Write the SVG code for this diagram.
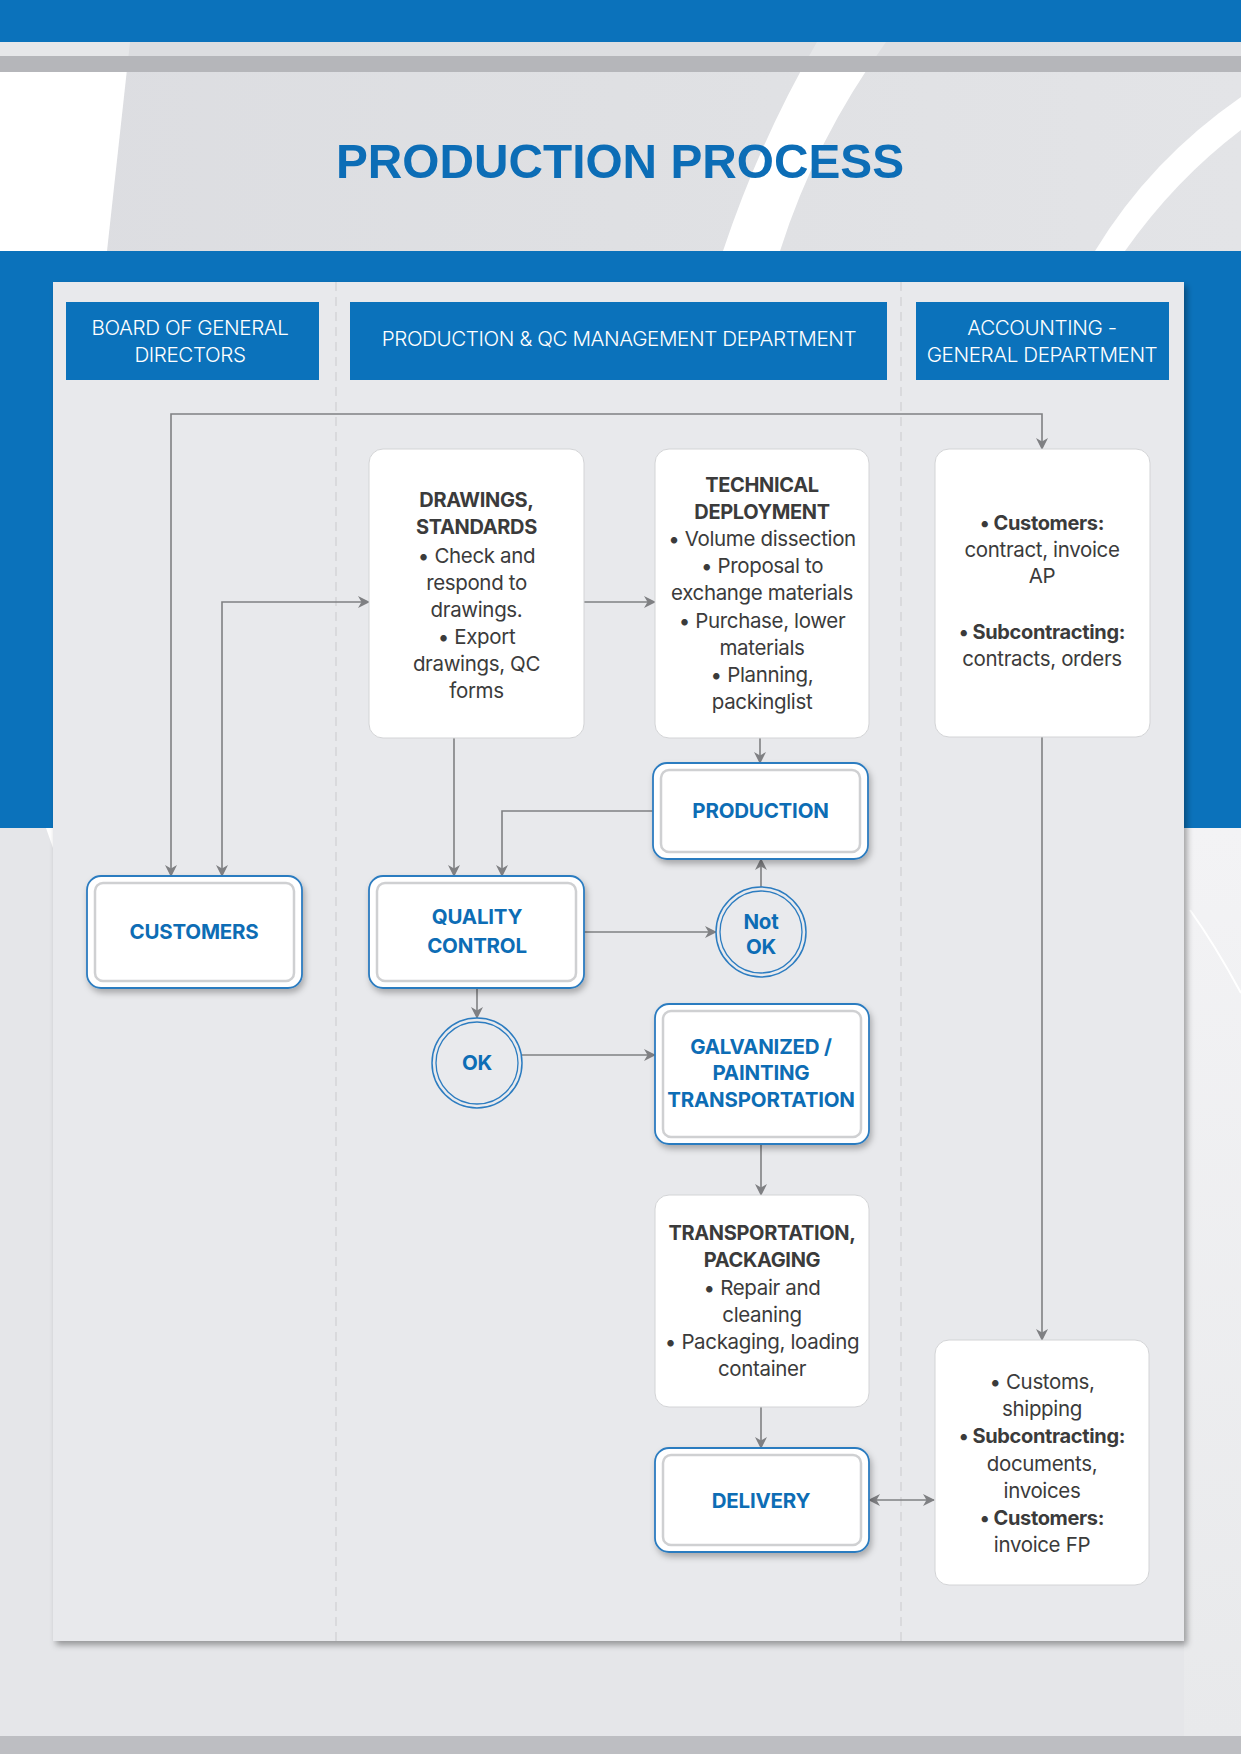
<svg xmlns="http://www.w3.org/2000/svg" width="1241" height="1754" viewBox="0 0 1241 1754">
<defs>
<style>
.hdr{font-family:Inter,"Liberation Sans",sans-serif;font-weight:300;font-size:20.6px;fill:#ffffff;text-anchor:middle;letter-spacing:-0.4px}
.body{font-family:Inter,"Liberation Sans",sans-serif;font-size:20.5px;fill:#3b3b3b;text-anchor:middle;letter-spacing:-0.35px}
.b{font-weight:700;font-size:20px}
.lbl{font-family:Inter,"Liberation Sans",sans-serif;font-weight:700;font-size:20.5px;fill:#0d6db5;text-anchor:middle;letter-spacing:-0.2px}
.box{fill:#ffffff;stroke:#d3d4d6;stroke-width:1}
.dbl{fill:#ffffff;stroke:#2c7cc0;stroke-width:1.8}
.inner{fill:none;stroke:#cfd0d2;stroke-width:2.5}
.circ{fill:#e9eaed;stroke:#2c7cc0;stroke-width:1.5}
.circi{fill:none;stroke:#2c7cc0;stroke-width:1.3}
.conn{fill:none;stroke:#7f8083;stroke-width:1.6}
.lane{stroke:#cfd0d3;stroke-width:1.2;stroke-dasharray:9 6}
</style>
<marker id="arr" viewBox="0 0 12 12" refX="11" refY="6" markerWidth="12" markerHeight="12" markerUnits="userSpaceOnUse" orient="auto-start-reverse">
<path d="M0,0 L12,6 L0,12 L3.5,6 Z" fill="#7f8083"/>
</marker>
<linearGradient id="bgtop" x1="0" y1="0" x2="1" y2="0">
<stop offset="0" stop-color="#dcdde1"/>
<stop offset="0.5" stop-color="#dfe0e3"/>
<stop offset="1" stop-color="#e3e4e7"/>
</linearGradient>
<linearGradient id="rside" x1="0" y1="0" x2="0" y2="1">
<stop offset="0" stop-color="#f3f3f5"/>
<stop offset="1" stop-color="#e8e9eb"/>
</linearGradient>
<filter id="sh" x="-10%" y="-10%" width="125%" height="130%">
<feDropShadow dx="2" dy="4" stdDeviation="3" flood-color="#000000" flood-opacity="0.28"/>
</filter>
<filter id="psh" x="-5%" y="-5%" width="112%" height="110%">
<feDropShadow dx="3" dy="4" stdDeviation="3" flood-color="#000000" flood-opacity="0.35"/>
</filter>
</defs>

<!-- background -->
<rect x="0" y="0" width="1241" height="1754" fill="#e5e6e9"/>
<rect x="0" y="42" width="1241" height="209" fill="url(#bgtop)"/>
<path d="M0,42 L130,42 L107,251 L0,251 Z" fill="#ffffff"/>
<path d="M817,42 L886,42 Q815,140 780,251 L723,251 Q760,140 817,42 Z" fill="#ffffff"/>
<path d="M1241,97 Q1150,160 1095,251 L1125,251 Q1175,180 1241,130 Z" fill="#ffffff"/>
<rect x="0" y="42" width="1241" height="14" fill="#dcdde0" opacity="0.7"/>
<rect x="0" y="56" width="1241" height="16" fill="#b5b6ba"/>
<rect x="0" y="0" width="1241" height="42" fill="#0b72bb"/>
<rect x="1184" y="828" width="57" height="908" fill="url(#rside)"/>
<path d="M1190,910 Q1215,945 1241,993" fill="none" stroke="#ffffff" stroke-width="2"/>
<rect x="0" y="251" width="1241" height="577" fill="#0b72bb"/>
<path d="M46,828 L53,828 L53,848 Z" fill="#ffffff"/>
<rect x="0" y="1736" width="1241" height="18" fill="#bdbec2"/>

<!-- panel -->
<rect x="53" y="282" width="1131" height="1359" fill="#e8e9ec" filter="url(#psh)"/>
<line class="lane" x1="336" y1="282" x2="336" y2="1641"/>
<line class="lane" x1="901" y1="282" x2="901" y2="1641"/>

<!-- lane headers -->
<g id="hdr-board">
<rect x="66" y="302" width="253" height="78" fill="#0b72bb"/>
<text class="hdr" x="190" y="335">BOARD OF GENERAL</text>
<text class="hdr" x="190" y="362">DIRECTORS</text>
</g>
<g id="hdr-production">
<rect x="350" y="302" width="537" height="78" fill="#0b72bb"/>
<text class="hdr" x="619" y="346">PRODUCTION &amp; QC MANAGEMENT DEPARTMENT</text>
</g>
<g id="hdr-accounting">
<rect x="916" y="302" width="253" height="78" fill="#0b72bb"/>
<text class="hdr" x="1042" y="335">ACCOUNTING -</text>
<text class="hdr" x="1042" y="362">GENERAL DEPARTMENT</text>
</g>

<!-- title -->
<text x="336" y="178" font-family="'Liberation Sans',Arial,sans-serif" font-weight="700" font-size="49" fill="#0c6db6" textLength="568" lengthAdjust="spacingAndGlyphs">PRODUCTION PROCESS</text>

<!-- connectors -->
<g id="connectors">
<path class="conn" d="M171,876 V414 H1042 V449" marker-start="url(#arr)" marker-end="url(#arr)"/>
<path class="conn" d="M369,602 H222 V876" marker-start="url(#arr)" marker-end="url(#arr)"/>
<path class="conn" d="M584,602 H655" marker-end="url(#arr)"/>
<path class="conn" d="M454,738 V876" marker-end="url(#arr)"/>
<path class="conn" d="M760,738 V763" marker-end="url(#arr)"/>
<path class="conn" d="M653,811 H502 V876" marker-end="url(#arr)"/>
<path class="conn" d="M584,932 H716" marker-end="url(#arr)"/>
<path class="conn" d="M761,887 V859" marker-end="url(#arr)"/>
<path class="conn" d="M477,988 V1018" marker-end="url(#arr)"/>
<path class="conn" d="M522,1055 H655" marker-end="url(#arr)"/>
<path class="conn" d="M761,1144 V1195" marker-end="url(#arr)"/>
<path class="conn" d="M761,1407 V1448" marker-end="url(#arr)"/>
<path class="conn" d="M869,1500 H934" marker-start="url(#arr)" marker-end="url(#arr)"/>
<path class="conn" d="M1042,737 V1340" marker-end="url(#arr)"/>
</g>

<!-- nodes -->
<g id="drawings">
<rect class="box" x="369" y="449" width="215" height="289" rx="14"/>
<text class="body b" x="476.5" y="507">DRAWINGS,</text>
<text class="body b" x="476.5" y="534">STANDARDS</text>
<text class="body" x="476.5" y="563">• Check and</text>
<text class="body" x="476.5" y="590">respond to</text>
<text class="body" x="476.5" y="617">drawings.</text>
<text class="body" x="476.5" y="644">• Export</text>
<text class="body" x="476.5" y="671">drawings, QC</text>
<text class="body" x="476.5" y="698">forms</text>
</g>

<g id="technical">
<rect class="box" x="655" y="449" width="214" height="289" rx="14"/>
<text class="body b" x="762" y="492">TECHNICAL</text>
<text class="body b" x="762" y="519">DEPLOYMENT</text>
<text class="body" x="762" y="546">• Volume dissection</text>
<text class="body" x="762" y="573">• Proposal to</text>
<text class="body" x="762" y="600">exchange materials</text>
<text class="body" x="762" y="628">• Purchase, lower</text>
<text class="body" x="762" y="655">materials</text>
<text class="body" x="762" y="682">• Planning,</text>
<text class="body" x="762" y="709">packinglist</text>
</g>

<g id="accounting-contracts">
<rect class="box" x="935" y="449" width="215" height="288" rx="14"/>
<text class="body" x="1042" y="530"><tspan class="b">• Customers:</tspan></text>
<text class="body" x="1042" y="557">contract, invoice</text>
<text class="body" x="1042" y="583">AP</text>
<text class="body" x="1042" y="639"><tspan class="b">• Subcontracting:</tspan></text>
<text class="body" x="1042" y="666">contracts, orders</text>
</g>

<g id="production">
<rect class="dbl" x="653" y="763" width="215" height="96" rx="14" filter="url(#sh)"/>
<rect class="inner" x="661" y="770" width="199" height="82" rx="8"/>
<text class="lbl" x="760.5" y="818">PRODUCTION</text>
</g>

<g id="customers">
<rect class="dbl" x="87" y="876" width="215" height="112" rx="14" filter="url(#sh)"/>
<rect class="inner" x="95" y="883" width="199" height="98" rx="8"/>
<text class="lbl" x="194" y="939">CUSTOMERS</text>
</g>

<g id="quality-control">
<rect class="dbl" x="369" y="876" width="215" height="112" rx="14" filter="url(#sh)"/>
<rect class="inner" x="377" y="883" width="199" height="98" rx="8"/>
<text class="lbl" x="477" y="924">QUALITY</text>
<text class="lbl" x="477" y="953">CONTROL</text>
</g>

<g id="not-ok">
<circle class="circ" cx="761" cy="932" r="45"/>
<circle class="circi" cx="761" cy="932" r="41"/>
<text class="lbl" x="761" y="929">Not</text>
<text class="lbl" x="761" y="954">OK</text>
</g>

<g id="ok">
<circle class="circ" cx="477" cy="1063" r="45"/>
<circle class="circi" cx="477" cy="1063" r="41"/>
<text class="lbl" x="477" y="1070">OK</text>
</g>

<g id="galvanized">
<rect class="dbl" x="655" y="1004" width="214" height="140" rx="14" filter="url(#sh)"/>
<rect class="inner" x="663" y="1011" width="198" height="126" rx="8"/>
<text class="lbl" x="761" y="1054">GALVANIZED /</text>
<text class="lbl" x="761" y="1080">PAINTING</text>
<text class="lbl" x="761" y="1107">TRANSPORTATION</text>
</g>

<g id="transport-packaging">
<rect class="box" x="655" y="1195" width="214" height="212" rx="14"/>
<text class="body b" x="762" y="1240">TRANSPORTATION,</text>
<text class="body b" x="762" y="1267">PACKAGING</text>
<text class="body" x="762" y="1295">• Repair and</text>
<text class="body" x="762" y="1322">cleaning</text>
<text class="body" x="762" y="1349">• Packaging, loading</text>
<text class="body" x="762" y="1376">container</text>
</g>

<g id="delivery">
<rect class="dbl" x="655" y="1448" width="214" height="104" rx="14" filter="url(#sh)"/>
<rect class="inner" x="663" y="1455" width="198" height="90" rx="8"/>
<text class="lbl" x="761" y="1508">DELIVERY</text>
</g>

<g id="accounting-customs">
<rect class="box" x="935" y="1340" width="214" height="245" rx="14"/>
<text class="body" x="1042" y="1389">•  Customs,</text>
<text class="body" x="1042" y="1416">shipping</text>
<text class="body" x="1042" y="1443"><tspan class="b">• Subcontracting:</tspan></text>
<text class="body" x="1042" y="1471">documents,</text>
<text class="body" x="1042" y="1498">invoices</text>
<text class="body" x="1042" y="1525"><tspan class="b">• Customers:</tspan></text>
<text class="body" x="1042" y="1552">invoice FP</text>
</g>
</svg>
